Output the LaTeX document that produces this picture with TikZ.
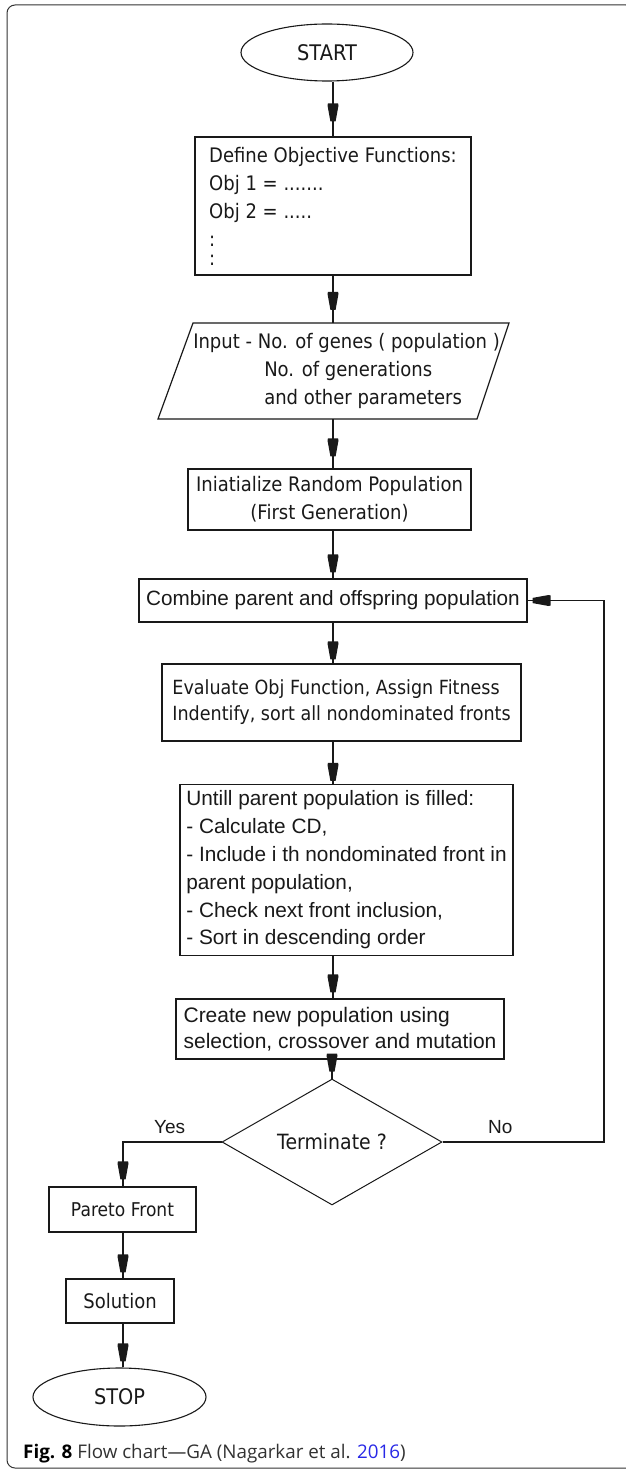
\documentclass[tikz,border=0pt]{standalone}
\usepackage{fontspec}
\setmainfont{DejaVu Sans}
\newfontfamily\tah[FakeStretch=0.9]{DejaVu Sans}
\newfontfamily\ari{Liberation Sans}
\newfontfamily\capfont{Open Sans}
\usetikzlibrary{shapes.geometric,arrows.meta,decorations.markings,calc}
\definecolor{ink}{RGB}{25,25,25}
\definecolor{capblue}{RGB}{40,40,230}
\definecolor{capgray}{RGB}{50,50,50}
\tikzset{
  box/.style={draw=ink, line width=1.2pt, rectangle, inner sep=0pt, text=ink},
  link/.style={draw=ink, line width=1.2pt},
  flowarrow/.style={postaction={decorate, decoration={markings,
      mark=at position -#1 with {\fill[ink] (-18pt,-5pt) -- (-16pt,-5.5pt) -- (-16pt,5.5pt) -- (-18pt,5pt) -- cycle
        (-16pt,-5.5pt) -- (0pt,-2.6pt) -- (0pt,2.6pt) -- (-16pt,5.5pt) -- cycle;}}}},
  flowarrow/.default=7pt,
  tahfont/.style={font=\tah\fontsize{#1}{28}\selectfont},
  arifont/.style={font=\ari\fontsize{#1}{27.8}\selectfont},
  terminal/.style={ellipse, draw=ink, line width=1.1pt, inner sep=0pt, text=ink,
      minimum width=172pt, minimum height=57pt, tahfont=21.5},
}
\begin{document}
\begin{tikzpicture}[x=1pt, y=-1pt]
\useasboundingbox (0,0) rectangle (625,1471);
% outer frame
\draw[black!80, line width=1pt, rounded corners=8pt] (7,5) rectangle (634,1468);

\coordinate (ax) at (333,0);
\coordinate (lx) at (123,0);
\coordinate (loop) at (604,0);

% nodes
\node[terminal] (start) at (327,52.5) {START};

\node[box, minimum width=276pt, minimum height=138pt,
      align=left, tahfont=20] (define) at (333,206)
  {Define Objective Functions:\\Obj 1 = .......\\Obj 2 = .....\\:\\[-9pt]:};

\draw[draw=ink, line width=1.2pt] (193,323) -- (509,323) -- (477,419) -- (158,419) -- cycle;
\node[inner sep=0pt, minimum height=96pt, align=left, text=ink, tahfont=20] (input) at (346.5,371)
  {Input - No. of genes ( population )\\\hspace*{71pt}No. of generations\\\hspace*{71pt}and other parameters};

\node[box, minimum width=283pt, minimum height=61pt, align=center, tahfont=20] (init) at (329.5,499.5)
  {Iniatialize Random Population\\(First Generation)};

\node[box, minimum width=388pt, minimum height=43pt, arifont=20.7] (combine) at (333,600.5)
  {Combine parent and offspring population};

\node[box, minimum width=359pt, minimum height=77pt, align=left,
      font=\tah\fontsize{19.5}{26}\selectfont] (evaluate) at (341.5,702.5)
  {Evaluate Obj Function, Assign Fitness\\Indentify, sort all nondominated fronts};

\node[box, minimum width=333pt, minimum height=171pt, align=left,
      arifont=20.8] (untill) at (346.5,870)
  {Untill parent population is filled:\\- Calculate CD,\\- Include i th nondominated front in\\parent population,\\- Check next front inclusion,\\- Sort in descending order};

\node[box, minimum width=328pt, minimum height=60pt, align=left,
      font=\ari\fontsize{21}{26}\selectfont] (create) at (340,1029)
  {Create new population using\\selection, crossover and mutation};

\node[diamond, draw=ink, line width=1pt, inner sep=0pt, minimum width=220pt, minimum height=88pt,
      text=ink, tahfont=21] (decide) at (332,1142) {Terminate ?};

\node[box, minimum width=147pt, minimum height=45pt, tahfont=19] (pareto) at (122.5,1209.5) {Pareto Front};
\node[box, minimum width=108pt, minimum height=44pt, tahfont=20] (solution) at (120,1301) {Solution};
\node[terminal, minimum width=173pt, minimum height=58pt] (stop) at (119.5,1397) {STOP};

\node[anchor=base west, inner sep=0pt, text=ink, font=\ari\fontsize{19}{19}\selectfont] (yes) at (154,1133) {Yes};
\node[anchor=base west, inner sep=0pt, text=ink, font=\ari\fontsize{19}{19}\selectfont] (no) at (488,1133) {No};

% connectors
\draw[link, flowarrow=15pt] (start.south -| ax) -- (define.north -| ax);
\draw[link, flowarrow=13pt] (define.south -| ax) -- (input.north -| ax);
\draw[link, flowarrow=12pt] (input.south -| ax) -- (init.north -| ax);
\draw[link, flowarrow=6pt] (init.south -| ax) -- (combine.north -| ax);
\draw[link, flowarrow=4pt] (combine.south -| ax) -- (evaluate.north -| ax);
\draw[link, flowarrow=3pt] (evaluate.south -| ax) -- (untill.north -| ax);
\draw[link, flowarrow=6pt] (untill.south -| ax) -- (create.north -| ax);
\draw[link, flowarrow=7pt] (create.south -| decide) -- (decide.north);
\draw[link, flowarrow=7pt] (decide.west) -| (pareto.north -| lx);
\draw[link, flowarrow=6pt] (pareto.south -| lx) -- (solution.north -| lx);
\draw[link, flowarrow=6pt] (solution.south -| lx) -- (stop.north -| lx);
\draw[link, flowarrow=5pt] (decide.east) -| (loop |- combine.east) -- (combine.east);

% caption
\node[anchor=base west, inner sep=0pt, text=capgray, font=\capfont\fontsize{18.8}{18.8}\selectfont] (caption) at (23,1458)
  {{\bfseries\color{black}Fig. 8} Flow chart—GA (Nagarkar et al. {\color{capblue}2016})};
\end{tikzpicture}
\end{document}
